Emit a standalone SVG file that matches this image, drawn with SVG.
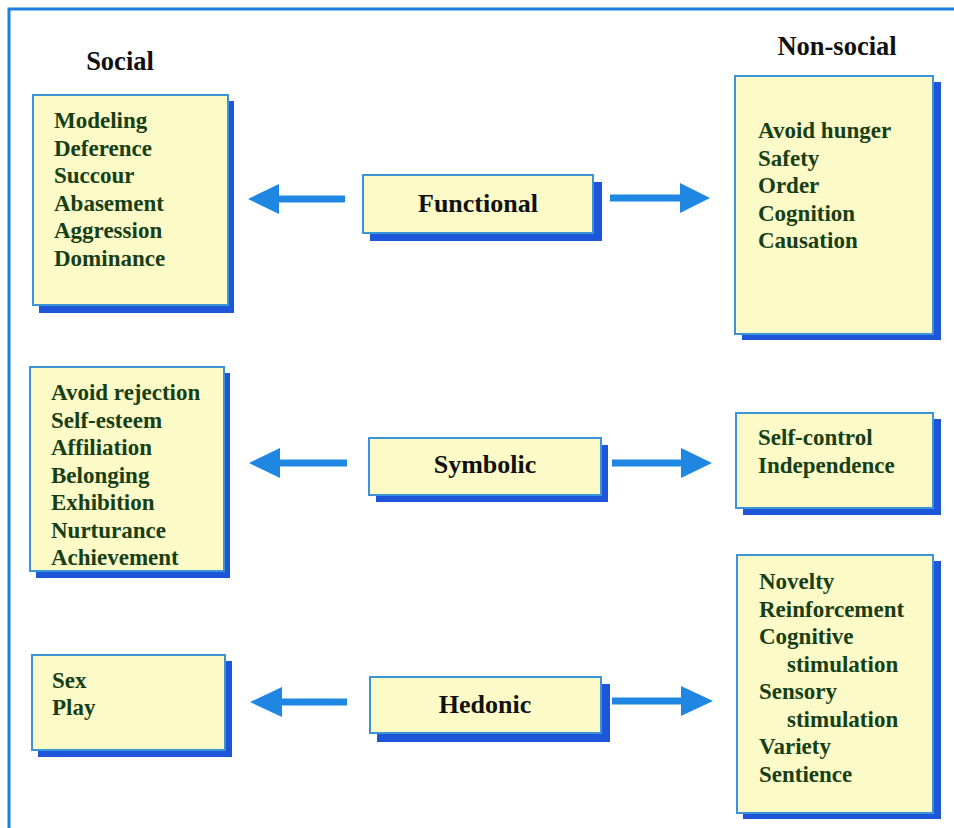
<svg xmlns="http://www.w3.org/2000/svg" width="954" height="828" viewBox="0 0 954 828">
<style>
.box{fill:#fcfac6;stroke:#3a94d6;stroke-width:2}
.shadow{fill:#1d56d9}
.t{font-family:"Liberation Serif","Times New Roman",serif;font-weight:bold;font-size:23px;fill:#173f17}
.h{font-family:"Liberation Serif","Times New Roman",serif;font-weight:bold;font-size:26.5px;fill:#111}
.c{font-family:"Liberation Serif","Times New Roman",serif;font-weight:bold;font-size:26px;fill:#111;text-anchor:middle}
.arr{fill:#1f86e2}
</style>
<rect width="954" height="828" fill="#ffffff"/>
<path d="M9,828 V9 H954" fill="none" stroke="#1f7fe0" stroke-width="3"/>
<text class="h" x="120" y="70" text-anchor="middle">Social</text>
<text class="h" x="837" y="55" text-anchor="middle">Non-social</text>

<g id="social-functional">
<rect class="shadow" x="39" y="101" width="195" height="212"/>
<rect class="box" x="33" y="95" width="195" height="210"/>
<text class="t" x="54"><tspan x="54" y="128">Modeling</tspan><tspan x="54" y="155.5">Deference</tspan><tspan x="54" y="183">Succour</tspan><tspan x="54" y="210.5">Abasement</tspan><tspan x="54" y="238">Aggression</tspan><tspan x="54" y="265.5">Dominance</tspan></text>
</g>

<g id="functional">
<rect class="shadow" x="370" y="182" width="232" height="59"/>
<rect class="box" x="363" y="175" width="230" height="58"/>
<text class="c" x="478" y="212">Functional</text>
</g>

<g id="nonsocial-functional">
<rect class="shadow" x="742" y="82" width="199" height="258"/>
<rect class="box" x="735" y="76" width="198" height="258"/>
<text class="t"><tspan x="758" y="138">Avoid hunger</tspan><tspan x="758" y="165.5">Safety</tspan><tspan x="758" y="193">Order</tspan><tspan x="758" y="220.5">Cognition</tspan><tspan x="758" y="248">Causation</tspan></text>
</g>

<g id="social-symbolic">
<rect class="shadow" x="36" y="373" width="194" height="205"/>
<rect class="box" x="30" y="367" width="194" height="204"/>
<text class="t"><tspan x="51" y="400">Avoid rejection</tspan><tspan x="51" y="427.5">Self-esteem</tspan><tspan x="51" y="455">Affiliation</tspan><tspan x="51" y="482.5">Belonging</tspan><tspan x="51" y="510">Exhibition</tspan><tspan x="51" y="537.5">Nurturance</tspan><tspan x="51" y="565">Achievement</tspan></text>
</g>

<g id="symbolic">
<rect class="shadow" x="376" y="445" width="232" height="57"/>
<rect class="box" x="369" y="438" width="232" height="57"/>
<text class="c" x="485" y="473">Symbolic</text>
</g>

<g id="nonsocial-symbolic">
<rect class="shadow" x="743" y="419" width="198" height="96"/>
<rect class="box" x="736" y="413" width="197" height="95"/>
<text class="t"><tspan x="758" y="445">Self-control</tspan><tspan x="758" y="473">Independence</tspan></text>
</g>

<g id="social-hedonic">
<rect class="shadow" x="38" y="661" width="194" height="96"/>
<rect class="box" x="32" y="655" width="193" height="95"/>
<text class="t"><tspan x="52" y="688">Sex</tspan><tspan x="52" y="715">Play</tspan></text>
</g>

<g id="hedonic">
<rect class="shadow" x="377" y="684" width="233" height="58"/>
<rect class="box" x="370" y="677" width="231" height="56"/>
<text class="c" x="485" y="713">Hedonic</text>
</g>

<g id="nonsocial-hedonic">
<rect class="shadow" x="743" y="561" width="198" height="258"/>
<rect class="box" x="737" y="555" width="196" height="258"/>
<text class="t"><tspan x="759" y="589">Novelty</tspan><tspan x="759" y="616.5">Reinforcement</tspan><tspan x="759" y="644">Cognitive</tspan><tspan x="787" y="671.5">stimulation</tspan><tspan x="759" y="699">Sensory</tspan><tspan x="787" y="726.5">stimulation</tspan><tspan x="759" y="754">Variety</tspan><tspan x="759" y="781.5">Sentience</tspan></text>
</g>

<g id="connectors">
<polygon class="arr" points="248,199 279,184 279,195.5 345,195.5 345,202.5 279,202.5 279,214"/>
<polygon class="arr" points="710,198 680,183 680,194.5 610,194.5 610,201.5 680,201.5 680,213"/>
<polygon class="arr" points="249,463 280,448 280,459.5 347,459.5 347,466.5 280,466.5 280,478"/>
<polygon class="arr" points="712,463 681,448 681,459.5 612,459.5 612,466.5 681,466.5 681,478"/>
<polygon class="arr" points="250,702 282,687 282,698.5 347,698.5 347,705.5 282,705.5 282,717"/>
<polygon class="arr" points="713,701 681,686 681,697.5 612,697.5 612,704.5 681,704.5 681,716"/>
</g>
</svg>
